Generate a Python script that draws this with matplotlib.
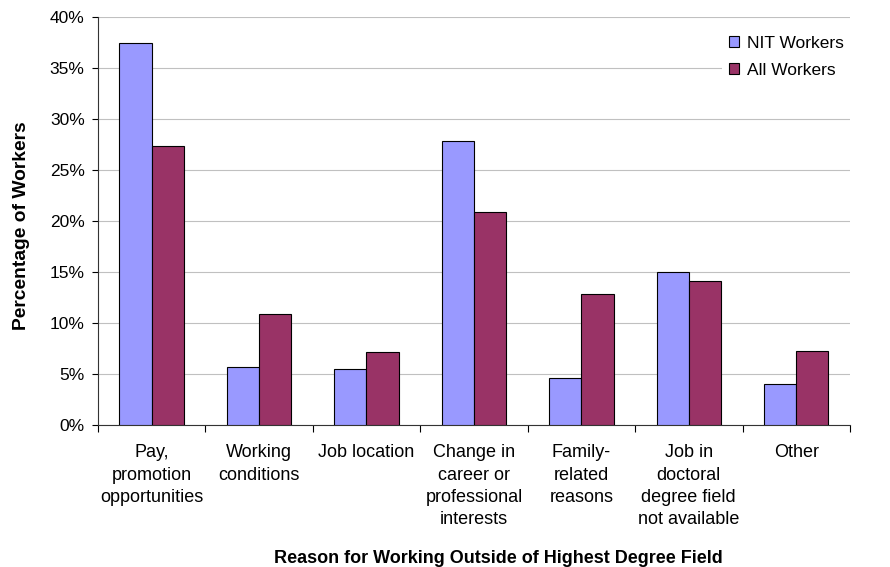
import numpy as np
import matplotlib.pyplot as plt
from matplotlib.ticker import PercentFormatter

plt.rcParams['font.family'] = ['Liberation Sans', 'DejaVu Sans']

categories = [
    "Pay,\npromotion\nopportunities",
    "Working\nconditions",
    "Job location",
    "Change in\ncareer or\nprofessional\ninterests",
    "Family-\nrelated\nreasons",
    "Job in\ndoctoral\ndegree field\nnot available",
    "Other",
]
nit_workers = [37.5, 5.7, 5.5, 27.8, 4.6, 15.0, 4.0]
all_workers = [27.4, 10.9, 7.2, 20.9, 12.8, 14.1, 7.3]

fig = plt.figure(figsize=(8.9, 5.67), dpi=100)
ax = fig.add_axes([0.110, 0.2504, 0.845, 0.7196])

x = np.arange(len(categories))
w = 0.3
ax.bar(x - w / 2, nit_workers, w, color='#9999FF', edgecolor='black',
       linewidth=0.8, label='NIT Workers', zorder=3)
ax.bar(x + w / 2, all_workers, w, color='#993366', edgecolor='black',
       linewidth=0.8, label='All Workers', zorder=3)

ax.set_xlim(-0.5, len(categories) - 0.5)
ax.set_ylim(0, 40)
ax.set_yticks(np.arange(0, 41, 5))
ax.yaxis.set_major_formatter(PercentFormatter(decimals=0))
ax.grid(axis='y', color='#c0c0c0', linewidth=0.8, zorder=0)

# category labels centred, tick marks at group boundaries
ax.set_xticks(x)
ax.set_xticklabels(categories, fontsize=13, va='top', linespacing=1.39)
ax.tick_params(axis='x', length=0, pad=14)
ax.set_xticks(np.arange(-0.5, len(categories)), minor=True)
ax.tick_params(axis='x', which='minor', length=5, width=0.8, direction='out')
ax.tick_params(axis='y', labelsize=12.5, length=4, width=0.8, pad=5.5,
               direction='out')

for side in ['top', 'right']:
    ax.spines[side].set_visible(False)
ax.spines['left'].set_color('#333333')
ax.spines['bottom'].set_color('#333333')

ax.set_ylabel('Percentage of Workers', fontsize=13.9, fontweight='bold', va='center')
ax.yaxis.set_label_coords(-0.101, 0.488)
ax.set_xlabel('Reason for Working Outside of Highest Degree Field',
              fontsize=13, fontweight='bold', va='center')
ax.xaxis.set_label_coords(0.532, -0.328)

leg = ax.legend(loc='upper left', bbox_to_anchor=(722 / 890, 1 - 29 / 567),
                bbox_transform=fig.transFigure, borderaxespad=0,
                fontsize=12.5, frameon=True, fancybox=False, edgecolor='none',
                handlelength=0.6, handleheight=0.6, handletextpad=0.45,
                labelspacing=0.7, borderpad=0.4)
leg.get_frame().set_alpha(1)

fig.savefig('out.png', dpi=100)
